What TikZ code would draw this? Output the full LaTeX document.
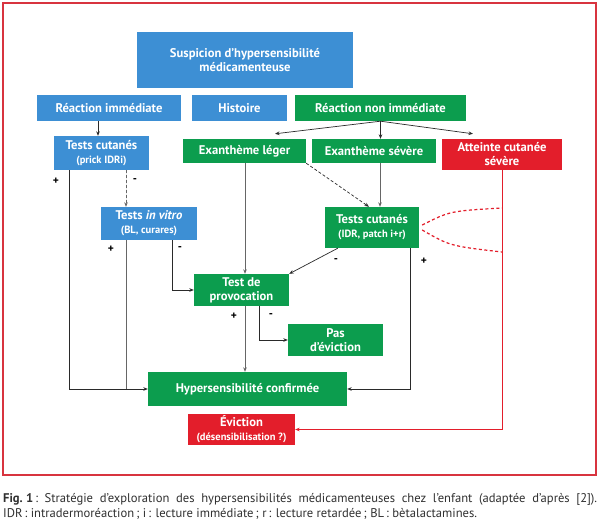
\documentclass[tikz,border=0pt]{standalone}
\usepackage{fontspec}
\setmainfont{PT Sans}
\usetikzlibrary{arrows.meta,calc}
\definecolor{cblue}{HTML}{3D8FD4}
\definecolor{cgreen}{HTML}{0C9D4E}
\definecolor{cred}{HTML}{E31E2B}
\definecolor{cframe}{HTML}{D8343F}
\definecolor{cline}{HTML}{2A2A2A}
\definecolor{cgray}{HTML}{666666}
\definecolor{ccap}{HTML}{303030}
\newcommand{\smalltxt}{\fontsize{10.5}{12}\selectfont}
\begin{document}
\begin{tikzpicture}[x=1pt,y=-1pt,
  box/.style={draw=none, inner sep=0pt, text=white, font=\bfseries\fontsize{12.6}{14}\selectfont, align=center},
  bbox/.style={box, fill=cblue},
  gbox/.style={box, fill=cgreen},
  rbox/.style={box, fill=cred},
  conn/.style={draw=cline, line width=0.7pt},
  arr/.style={conn, -{Stealth[length=4.5pt,width=3.6pt]}},
  gconn/.style={conn, draw=cgray},
  garr/.style={arr, draw=cgray, fill=cgray},
  dsh/.style={dash pattern=on 3pt off 2pt},
  sign/.style={font=\bfseries\fontsize{11.5}{12}\selectfont, text=black, inner sep=0pt}]

\useasboundingbox (0,0) rectangle (600,524);
\fill[white] (0,0) rectangle (600,524);
\draw[cframe, line width=1.1pt] (3,3) rectangle (596,475);

% nodes
\node[bbox, minimum width=216pt, minimum height=56pt] (susp) at (245,60) {Suspicion d’hypersensibilité\\médicamenteuse};
\node[bbox, minimum width=144pt, minimum height=26pt] (rimm) at (109,108) {Réaction immédiate};
\node[bbox, minimum width=95pt, minimum height=26pt] (hist) at (239.5,108) {Histoire};
\node[gbox, minimum width=171pt, minimum height=26pt] (rnon) at (380.5,108) {Réaction non immédiate};
\node[bbox, minimum width=95pt, minimum height=34pt] (tc1) at (101.5,153) {Tests cutanés\\{\smalltxt (prick IDRi)}};
\node[gbox, minimum width=123pt, minimum height=24pt] (exl) at (244.5,151) {Exanthème léger};
\node[gbox, minimum width=124pt, minimum height=24pt] (exs) at (374,151) {Exanthème sévère};
\node[rbox, minimum width=120pt, minimum height=31pt] (atc) at (502,154.5) {Atteinte cutanée\\sévère};
\node[bbox, minimum width=96pt, minimum height=33pt] (tiv) at (149,223.5) {Tests \textit{in vitro}\\{\smalltxt (BL, curares)}};
\node[gbox, minimum width=94pt, minimum height=41pt] (tc2) at (372,227.5) {Tests cutanés\\{\smalltxt (IDR, patch i+r)}};
\node[gbox, minimum width=95pt, minimum height=32pt] (prov) at (241.5,290) {Test de\\provocation};
\node[gbox, minimum width=95pt, minimum height=32pt] (pas) at (335.5,340) {Pas\\d’éviction};
\node[gbox, minimum width=199pt, minimum height=34pt] (hyp) at (247.5,389) {Hypersensibilité confirmée};
\node[rbox, minimum width=107pt, minimum height=31pt] (evic) at (241.5,429.5) {Éviction\\{\smalltxt (désensibilisation ?)}};

% guide coordinates
\coordinate (b1) at (98,0);
\coordinate (b2) at (69,0);
\coordinate (b3) at (126,0);
\coordinate (b4) at (172,0);
\coordinate (b5) at (245,0);
\coordinate (b6) at (380,0);
\coordinate (b7) at (410,0);
\coordinate (b8) at (259,0);
\coordinate (ru) at (502,208);
\coordinate (rl) at (502,252);

% connectors
\draw[arr] (rimm.south -| b1) -- (tc1.north -| b1);
\draw[arr] (rnon.south) -- ($(exl.north)+(30.5,-5)$);
\draw[arr] (rnon.south) -- (rnon.south |- exs.north);
\draw[arr] (rnon.south) -- ($(atc.north)+(-29,-5)$);
\draw[arr] (tc1.south -| b2) |- (hyp.west);
\draw[garr, dsh] (tc1.south -| b3) -- (tiv.north -| b3);
\draw[gconn] (tiv.south -| b3) -- (b3 |- hyp.west);
\draw[arr] (tiv.south -| b4) |- (prov.west);
\draw[garr] (exl.south -| b5) -- (prov.north -| b5);
\draw[arr, dsh] (exl.south east) -- ($(tc2.north)+(-3,0)$);
\draw[garr] (exs.south -| b6) -- (tc2.north -| b6);
\draw[arr] ($(tc2.south west)+(13,0)$) -- (prov.north east);
\draw[arr] (tc2.south -| b7) |- (hyp.east);
\draw[garr] (prov.south -| b5) -- (hyp.north -| b5);
\draw[arr] (prov.south -| b8) |- (pas.west);
\draw[draw=cred, line width=0.7pt, -{Stealth[length=4.5pt,width=3.6pt]}] (atc.south) |- (evic.east);
\draw[cred, line width=1.2pt, dash pattern=on 3pt off 2.5pt] ($(tc2.east)+(3,-2.5)$) .. controls (450,211) .. (ru);
\draw[cred, line width=1.2pt, dash pattern=on 3pt off 2.5pt] ($(tc2.east)+(3,2.5)$) .. controls (450,246) .. (rl);

% signs
\node[sign] (s1) at (56,181) {+};
\node[sign] (s2) at (135,181) {-};
\node[sign] (s3) at (111,249) {+};
\node[sign] (s4) at (180,249) {-};
\node[sign] (s5) at (336,261) {-};
\node[sign] (s6) at (424,261) {+};
\node[sign] (s7) at (234,316) {+};
\node[sign] (s8) at (271,316) {-};

% caption
\node[anchor=west, inner sep=0pt, text=ccap, font=\fontsize{12.6}{14}\selectfont] (cap1) at (3,499)
  {\hbox to 594pt{\mbox{\textbf{Fig.\ 1}\,:} Stratégie d’exploration des hypersensibilités médicamenteuses chez l’enfant (adaptée d’après [2]).}};
\node[anchor=west, inner sep=0pt, text=ccap, font=\fontsize{12.6}{14}\selectfont] (cap2) at (3,514)
  {IDR\,: intradermoréaction\,; i\,: lecture immédiate\,; r\,: lecture retardée\,; BL\,: bètalactamines.};
\end{tikzpicture}
\end{document}
